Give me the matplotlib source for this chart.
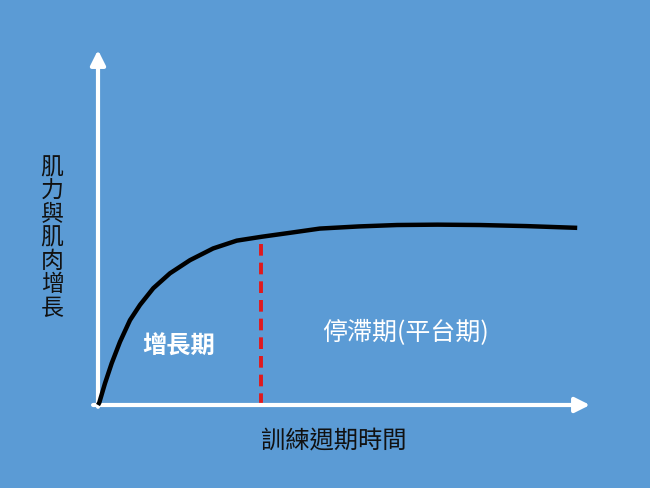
import numpy as np
import matplotlib
matplotlib.use('Agg')
import matplotlib.pyplot as plt

plt.rcParams['font.family'] = ['Noto Sans CJK TC', 'DejaVu Sans']

# training time (arbitrary units) vs strength / muscle growth
weeks = [0, 0.026, 0.142, 0.278, 0.447, 0.65, 0.854, 1.124, 1.463, 1.87, 2.34, 2.82,
         3.33, 3.90, 4.51, 5.3, 6.08, 6.9, 7.76, 8.7, 9.74]
growth = [0, 0.065, 0.61, 1.175, 1.78, 2.39, 2.82, 3.29, 3.71, 4.08, 4.41, 4.63,
          4.74, 4.85, 4.97, 5.03, 5.07, 5.08, 5.07, 5.04, 4.99]
split_week = 3.31
split_growth = 4.75

ylabel = '肌\n力\n與\n肌\n肉\n增\n長'
xlabel = '訓練週期時間'
phase1 = '增長期'
phase2 = '停滯期(平台期)'

bg = '#5B9BD5'
fig = plt.figure(figsize=(6.5, 4.88), dpi=100, facecolor=bg)
ax = fig.add_axes([98/650, 83/488, 492/650, 355/488])
ax.set_facecolor(bg)
ax.set_xlim(0, 10)
ax.set_ylim(0, 10)
for s in ax.spines.values():
    s.set_visible(False)
ax.set_xticks([])
ax.set_yticks([])

# axes with arrows
arrow = dict(arrowstyle='-|>', color='white', lw=3, mutation_scale=22, shrinkA=0, shrinkB=0)
ax.annotate('', xy=(1, 0), xytext=(-0.01, 0), xycoords='axes fraction', arrowprops=arrow)
ax.annotate('', xy=(0, 1), xytext=(0, -0.005), xycoords='axes fraction', arrowprops=arrow)

ax.plot(weeks, growth, color='black', lw=3.2, solid_capstyle='butt', solid_joinstyle='round',
        clip_on=False, zorder=3)
ax.vlines(split_week, 0, split_growth, color='#E0191E', lw=2.8, linestyles=(0, (3, 1.8)), zorder=2)

ax.text(1.64, 1.64, phase1, color='white', fontsize=17.5, fontweight='bold', ha='center', va='center')
ax.text(6.26, 2.04, phase2, color='white', fontsize=18, fontweight='medium', ha='center', va='center')

fig.text(52/650, 1 - 238/488, ylabel, color='#111111', fontsize=16.5, fontweight='medium',
         ha='center', va='center', linespacing=1.02)
fig.text(334/650, 1 - 440/488, xlabel, color='#111111', fontsize=17.5, fontweight='medium',
         ha='center', va='center')

fig.savefig('out.png', dpi=100, facecolor=bg)
